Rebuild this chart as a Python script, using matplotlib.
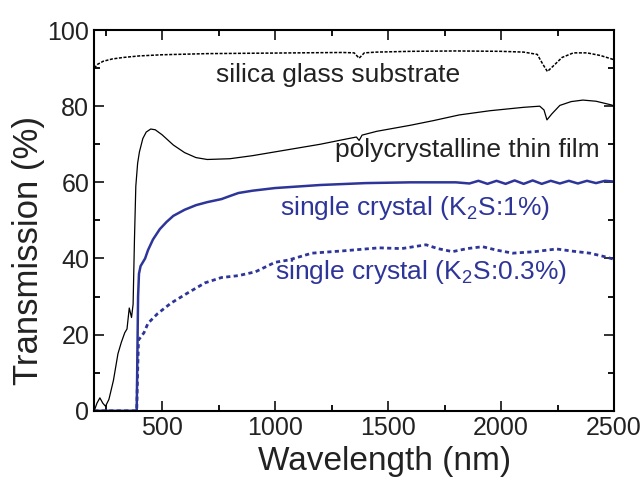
import matplotlib
matplotlib.use('Agg')
from matplotlib import pyplot as plt
from matplotlib.ticker import MultipleLocator

plt.rcParams['font.family'] = ['Liberation Sans', 'DejaVu Sans']
plt.rcParams['mathtext.fontset'] = 'custom'
plt.rcParams['mathtext.rm'] = 'Liberation Sans'

blue = '#2E3599'

# silica glass substrate (dotted black)
glass_x = [200, 215, 240, 280, 330, 400, 500, 700, 900, 1100, 1300, 1350, 1372, 1395, 1450,
           1600, 1800, 2000, 2100, 2160, 2185, 2205, 2230, 2270, 2320, 2380, 2440, 2500]
glass_y = [90.0, 91.0, 91.8, 92.4, 92.8, 93.2, 93.5, 93.8, 93.9, 94.0, 94.1, 94.0, 92.6, 94.0, 94.2,
           94.4, 94.5, 94.4, 94.2, 93.6, 91.0, 89.1, 90.5, 92.8, 94.0, 94.0, 93.3, 92.2]

# polycrystalline thin film (solid black)
poly_x = [200, 212, 225, 238, 250, 265, 285, 305, 320, 335, 345, 355, 365, 372, 378, 384, 392,
          400, 415, 430, 450, 470, 500, 550, 600, 650, 700, 800, 900, 1000, 1100, 1200, 1300,
          1360, 1372, 1385, 1450, 1600, 1700, 1815, 1950, 2100, 2171, 2190, 2203, 2225, 2260,
          2310, 2362, 2420, 2490, 2500]
poly_y = [0.0, 2.0, 3.4, 2.0, 1.2, 3.0, 8.0, 15.0, 18.0, 20.5, 21.5, 27.0, 24.5, 28.0, 45.0, 59.0, 65.0,
          68.0, 71.5, 73.2, 74.0, 73.8, 72.5, 69.8, 67.8, 66.5, 66.0, 66.2, 67.0, 68.0, 69.0, 70.0, 71.2,
          71.9, 71.0, 72.4, 73.4, 75.0, 76.2, 77.7, 78.8, 79.7, 80.0, 79.0, 76.4, 78.0, 80.2,
          81.2, 81.6, 81.3, 80.3, 80.0]

# single crystal K2S:1% (solid blue)
k1_x = [200, 388, 391, 394, 398, 405, 415, 425, 438, 460, 490, 520, 550, 600, 650, 700, 763, 800,
        838, 900, 1000, 1100, 1200, 1400, 1600, 1800, 1860, 1900, 1940, 1980, 2020, 2060, 2100,
        2140, 2180, 2220, 2260, 2300, 2340, 2380, 2420, 2460, 2500]
k1_y = [0.0, 0.0, 15.0, 30.0, 36.0, 38.0, 39.0, 40.0, 42.2, 45.0, 47.7, 49.6, 51.2, 52.8, 54.0, 54.8, 55.6,
        56.4, 57.2, 57.8, 58.5, 58.9, 59.3, 59.8, 60.0, 60.0, 59.7, 60.4, 59.6, 60.4, 59.6, 60.5, 59.6,
        60.5, 59.6, 60.4, 59.7, 60.4, 59.7, 60.4, 59.8, 60.4, 60.2]

# single crystal K2S:0.3% (dotted blue)
k03_x = [200, 388, 392, 396, 420, 438, 480, 540, 615, 690, 763, 838, 913, 1000, 1060, 1163,
         1300, 1460, 1560, 1668, 1720, 1785, 1850, 1918, 1980, 2052, 2150, 2245, 2320, 2393, 2450, 2500]
k03_y = [0.0, 0.0, 10.0, 18.6, 20.5, 23.0, 25.5, 28.3, 31.0, 33.6, 35.0, 35.5, 36.5, 39.0, 39.6, 41.4,
         42.0, 42.8, 42.6, 43.6, 42.6, 41.8, 42.6, 43.1, 42.2, 41.4, 41.8, 42.5, 41.9, 41.4, 40.6, 39.8]

fig = plt.figure(figsize=(6.41, 4.92), dpi=100)
ax = fig.add_axes([0.147, 0.165, 0.811, 0.774])

ax.plot(glass_x, glass_y, color='black', linestyle=(0, (2, 1)), linewidth=1.1)
ax.plot(poly_x, poly_y, color='black', linewidth=0.9)
ax.plot(k1_x, k1_y, color=blue, linewidth=1.8)
ax.plot(k03_x, k03_y, color=blue, linestyle=(0, (1.5, 1.2)), linewidth=2.0)

ax.text(1278, 88.2, 'silica glass substrate', fontsize=19, ha='center', va='center', color='#222222')
ax.text(1850, 68.5, 'polycrystalline thin film', fontsize=19, ha='center', va='center', color='#222222')
ax.text(1620, 53.3, 'single crystal (K$_2$S:1%)', fontsize=19, ha='center', va='center', color=blue)
ax.text(1645, 36.5, 'single crystal (K$_2$S:0.3%)', fontsize=19, ha='center', va='center', color=blue)

ax.set_xlim(200, 2500)
ax.set_ylim(0, 100)
ax.xaxis.set_major_locator(MultipleLocator(500))
ax.xaxis.set_minor_locator(MultipleLocator(250))
ax.yaxis.set_major_locator(MultipleLocator(20))
ax.yaxis.set_minor_locator(MultipleLocator(10))
ax.tick_params(which='both', direction='in', top=True, right=True, width=1.3)
ax.tick_params(which='major', length=7, labelsize=18, colors='#222222')
ax.tick_params(which='minor', length=4)
for s in ax.spines.values():
    s.set_linewidth(1.5)

ax.set_xlabel('Wavelength (nm)', fontsize=24, color='#222222')
ax.set_ylabel('Transmission (%)', fontsize=25, color='#222222')
ax.xaxis.set_label_coords(0.558, -0.092)
ax.yaxis.set_label_coords(-0.094, 0.42)

plt.savefig('out.png', dpi=100)
